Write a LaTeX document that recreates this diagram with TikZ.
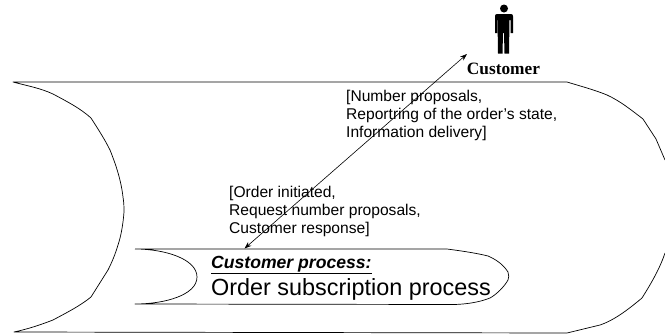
\documentclass[tikz,border=0pt]{standalone}
\usepackage{fontspec}
\setmainfont{Liberation Sans}
\newfontfamily\serifbold{Liberation Serif}
\usetikzlibrary{arrows.meta}
\tikzset{
  outline/.style={draw=black,line width=0.7pt,line join=round},
  lbl/.style={anchor=west,inner sep=0pt,align=left,font=\fontsize{15.6}{18}\selectfont},
  link/.style={draw=black,line width=0.6pt,{Stealth[length=7pt,width=5pt]}-{Stealth[length=7pt,width=5pt]}}
}
\begin{document}
\begin{tikzpicture}[x=1pt,y=-1pt]
\useasboundingbox (0,0) rectangle (665,335);
% outer
\draw[outline] (665,160) -- (656,139) -- (643,119) .. controls (630,109) and (620,101) .. (607,95) .. controls (595,90) and (580,86) .. (567,82) -- (13,82)
  .. controls (28,86) and (40,88) .. (53,94) .. controls (66,101) and (80,108) .. (91,118) .. controls (100,132) and (105,140) .. (110,150) .. controls (116,165) and (121,180) .. (123,197) .. controls (124,203) and (124,208) .. (124,212)
  .. controls (123,225) and (121,236) .. (118,245) .. controls (115,255) and (112,262) .. (108,270) -- (91,297) .. controls (80,306) and (66,313) .. (53,320) .. controls (40,325) and (28,329) .. (14,332) -- (567,333) -- (600,325) .. controls (615,320) and (630,308) .. (642,298) .. controls (652,282) and (660,268) .. (665,253);
% inner
\draw[outline] (135,249) -- (447,249) .. controls (462,251) and (476,253) .. (488,256) .. controls (495,259) and (503,264) .. (508,272) .. controls (509,275) and (509,278) .. (508,280) .. controls (504,287) and (497,294) .. (490,298) .. controls (480,302) and (468,304) .. (455,304.5) -- (135,304)
  .. controls (165,304) and (197,295) .. (197,277) .. controls (197,259) and (165,249) .. (135,249);
% person
\fill[black] (504,8.5) circle (4);
\fill[black] (497,14) -- (511,14) .. controls (512.5,14) and (513,15) .. (513,16.5) -- (513,33) -- (510.5,33) -- (510.5,20) -- (509.5,20) -- (509,53.5) -- (504.5,53.5) -- (504,33) -- (503,33) -- (502.5,53.5) -- (498,53.5) -- (497.5,20) -- (497,20) -- (497,33) -- (495,33) -- (495,16.5) .. controls (495,15) and (495.5,14) .. (497,14) -- cycle;
\node[inner sep=0pt,font=\serifbold\bfseries\fontsize{17.3}{19}\selectfont] (cust) at (503.5,69) {Customer};
% anchors
\coordinate (top) at (467,54);
\coordinate (bot) at (244.5,248.5);
\draw[link] (bot) -- (top);
\node[lbl] (upper) at (346,115) {[Number proposals,\\Reportring of the order’s state,\\Information delivery]};
\node[lbl] (lower) at (229,211) {[Order initiated,\\Request number proposals,\\Customer response]};
\node[anchor=base west,inner sep=0pt,font=\bfseries\itshape\fontsize{17.6}{20}\selectfont] (title) at (211,268) {\underline{Customer process:}};
\node[anchor=base west,inner sep=0pt,font=\fontsize{23.4}{26}\selectfont] (proc) at (211,295) {Order subscription process};
\end{tikzpicture}
\end{document}
